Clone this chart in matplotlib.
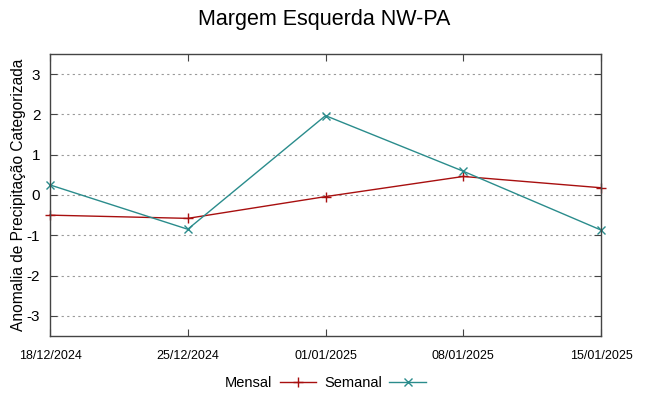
import matplotlib
matplotlib.use("Agg")
import matplotlib.pyplot as plt

plt.rcParams['font.family'] = ['Liberation Sans', 'DejaVu Sans']

datas = ["18/12/2024", "25/12/2024", "01/01/2025", "08/01/2025", "15/01/2025"]
mensal = [-0.50, -0.58, -0.04, 0.46, 0.18]
semanal = [0.25, -0.85, 1.97, 0.59, -0.87]
yticks = [-3, -2, -1, 0, 1, 2, 3]

fig = plt.figure(figsize=(6.49, 3.96), dpi=100)
ax = fig.add_axes([50 / 649, 1 - 336 / 396, 551 / 649, 282 / 396])

x = list(range(len(datas)))
ax.plot(x, mensal, color='#a80f0f', lw=1.0, marker='+', ms=7, mew=1.0,
        label='Mensal', clip_on=False)
ax.plot(x, semanal, color='#2a8c8c', lw=1.0, marker='x', ms=5.5, mew=1.0,
        label='Semanal', clip_on=False)

ax.set_xlim(0, len(datas) - 1)
ax.set_ylim(-3.5, 3.5)
ax.set_xticks(x)
ax.set_xticklabels(datas, fontsize=9)
ax.set_yticks(yticks)
ax.set_yticklabels([str(v) for v in yticks], fontsize=11)
ax.tick_params(direction='in', top=True, right=True, length=5, width=0.8,
               color='#444444')
ax.tick_params(axis='x', pad=10)
ax.tick_params(axis='y', pad=7)
ax.yaxis.grid(True, linestyle=(0, (2, 3)), color='#999999', lw=0.8)
for s in ax.spines.values():
    s.set_color('#444444')
    s.set_linewidth(1.0)

ax.set_ylabel("Anomalia de Precipitação Categorizada", fontsize=11.2, labelpad=0.5)
fig.text(0.5, 1 - 19 / 396, "Margem Esquerda NW-PA", fontsize=15.5,
         ha='center', va='center')

ax.legend(loc='upper center', bbox_to_anchor=(0.5, -0.095), ncol=2,
          frameon=False, markerfirst=False, fontsize=10.5, handlelength=2.5,
          columnspacing=0.55, handletextpad=0.5)

fig.savefig('out.png', dpi=100)
